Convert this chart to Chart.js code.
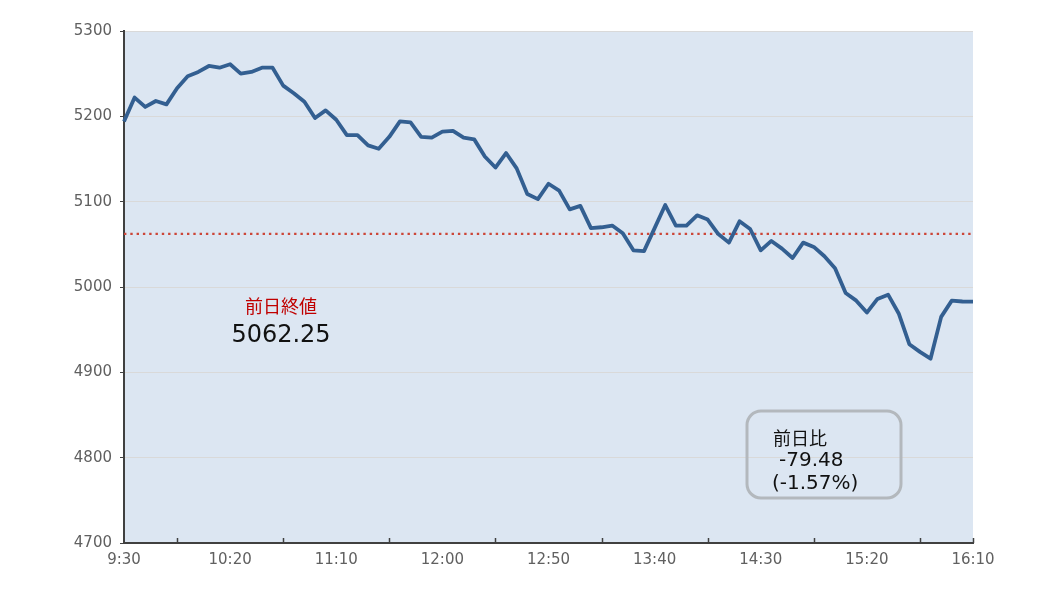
<!DOCTYPE html>
<html>
<head>
<meta charset="utf-8">
<script src="https://cdn.jsdelivr.net/npm/chart.js@4/dist/chart.umd.min.js"></script>
<style>
  html, body { margin: 0; padding: 0; background: #fff; }
  #wrap { width: 1038px; height: 597px; }
</style>
</head>
<body>
<div id="wrap"><canvas id="c"></canvas></div>
<script>
// 5-minute bars, 9:30 -> 16:10
const startMin = 9 * 60 + 30;
const times = [];
for (let i = 0; i <= 80; i++) {
    const m = startMin + i * 5;
    times.push(Math.floor(m / 60) + ":" + String(m % 60).padStart(2, "0"));
}

const prices = [
    5194, 5222, 5211, 5218, 5214, 5233, 5247, 5252, 5259, 5257,
    5261, 5250, 5252, 5257, 5257, 5236, 5227, 5217, 5198, 5207,
    5196, 5178, 5178, 5166, 5162, 5176, 5194, 5193, 5176, 5175,
    5182, 5183, 5175, 5173, 5153, 5140, 5157, 5139, 5109, 5103,
    5121, 5113, 5091, 5095, 5069, 5070, 5072, 5063, 5043, 5042,
    5069, 5096, 5072, 5072, 5084, 5079, 5062, 5052, 5077, 5068,
    5043, 5054, 5045, 5034, 5052, 5047, 5036, 5022, 4993, 4984,
    4970, 4986, 4991, 4969, 4933, 4924, 4916, 4965, 4984, 4983,
    4982.77
];

const prevClose = 5062.25;
const prevCloseLabel = "前日終値";
const changeLabel = "前日比";
const changeValue = "-79.48";
const changePct = "(-1.57%)";
const yTicks = [4700, 4800, 4900, 5000, 5100, 5200, 5300];
// small tick marks on the time axis (between the labels)
const xTickIdx = [5, 15, 25, 35, 45, 55, 65, 75, 80];

const axisColor = "#404040";
const latin = "'DejaVu Sans', 'Noto Sans CJK JP', sans-serif";
const jpFont = "'Noto Sans CJK JP', 'DejaVu Sans', sans-serif";

const plotBg = {
    id: "plotBg",
    beforeDraw(chart) {
        const { ctx, chartArea: a } = chart;
        ctx.save();
        ctx.fillStyle = "#dce6f2";
        ctx.fillRect(a.left, a.top, a.right - a.left, a.bottom - a.top);
        ctx.restore();
    }
};

const extras = {
    id: "extras",
    afterDraw(chart) {
        const { ctx, chartArea: a } = chart;
        const xs = chart.scales.x;
        ctx.save();
        // inward tick marks on x axis
        ctx.strokeStyle = axisColor;
        ctx.lineWidth = 1.5;
        xTickIdx.forEach(i => {
            const x = Math.round(xs.getPixelForValue(i)) + 0.5;
            ctx.beginPath();
            ctx.moveTo(x, a.bottom);
            ctx.lineTo(x, a.bottom - 5);
            ctx.stroke();
        });

        // previous close note
        ctx.textAlign = "center";
        ctx.textBaseline = "middle";
        ctx.fillStyle = "#c00000";
        ctx.font = `18px ${jpFont}`;
        ctx.fillText(prevCloseLabel, 281, 306);
        ctx.fillStyle = "#111";
        ctx.font = `24px ${latin}`;
        ctx.fillText(prevClose.toFixed(2), 281, 336);

        // change box
        ctx.strokeStyle = "#b3b8bd";
        ctx.lineWidth = 3;
        ctx.beginPath();
        ctx.roundRect(747, 411, 154, 87, 14);
        ctx.stroke();
        ctx.fillStyle = "#111";
        ctx.textAlign = "left";
        ctx.font = `18px ${jpFont}`;
        ctx.fillText(changeLabel, 773, 438);
        ctx.font = `20px ${latin}`;
        ctx.fillText(changeValue, 779, 461);
        ctx.fillText(changePct, 772, 484);
        ctx.restore();
    }
};

new Chart(document.getElementById("c"), {
    type: "line",
    data: {
        labels: times,
        datasets: [
            {
                data: prices,
                borderColor: "#335f91",
                borderWidth: 3.8,
                pointRadius: 0,
                tension: 0,
                borderJoinStyle: "round"
            },
            {
                data: times.map(() => prevClose),
                borderColor: "#cc4638",
                borderWidth: 2.4,
                borderDash: [2.4, 3.9],
                pointRadius: 0
            }
        ]
    },
    options: {
        responsive: true,
        maintainAspectRatio: false,
        animation: false,
        layout: { padding: { top: 31, right: 65, left: 0, bottom: 0 } },
        plugins: {
            legend: { display: false },
            tooltip: { enabled: false }
        },
        scales: {
            x: {
                offset: false,
                grid: { display: false, drawTicks: false },
                border: { color: axisColor, width: 2 },
                ticks: {
                    autoSkip: false,
                    maxRotation: 0,
                    padding: 8,
                    color: "#606060",
                    font: { size: 15, family: latin },
                    callback: (v, i) => (i % 10 === 0 ? times[i] : null)
                },
                afterFit(scale) { scale.height = 54; }
            },
            y: {
                min: yTicks[0],
                max: yTicks[yTicks.length - 1],
                afterBuildTicks(scale) { scale.ticks = yTicks.map(v => ({ value: v })); },
                grid: { color: "#d9d9d9", tickColor: axisColor, tickLength: 4, lineWidth: 1 },
                border: { color: axisColor, width: 2 },
                ticks: {
                    padding: 8,
                    color: "#606060",
                    font: { size: 15, family: latin },
                    callback: v => String(v)
                },
                afterFit(scale) { scale.width = 124; }
            }
        }
    },
    plugins: [plotBg, extras]
});
</script>
</body>
</html>
